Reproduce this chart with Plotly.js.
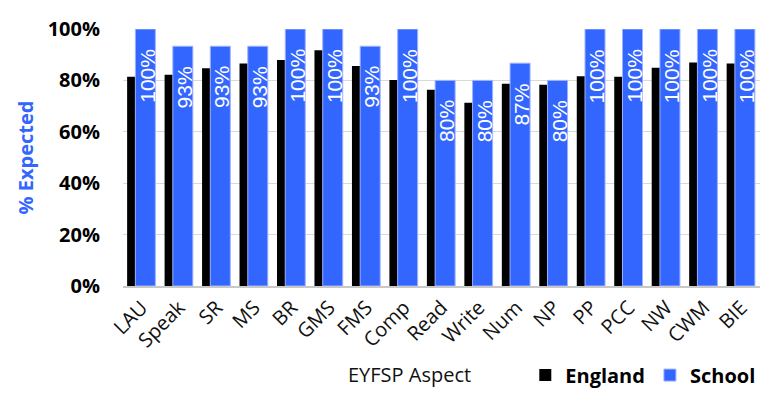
<!DOCTYPE html>
<html>
<head>
<meta charset="utf-8">
<script src="https://cdn.plot.ly/plotly-3.0.1.min.js"></script>
<style>html,body{margin:0;padding:0;background:#fff;}#chart{width:783px;height:394px;}</style>
</head>
<body>
<div id="chart"></div>
<script>
const categories = ["LAU","Speak","SR","MS","BR","GMS","FMS","Comp","Read","Write","Num","NP","PP","PCC","NW","CWM","BIE"];
const englandValues = [0.814,0.822,0.847,0.866,0.879,0.917,0.856,0.802,0.764,0.713,0.787,0.783,0.816,0.814,0.849,0.870,0.866];
const schoolValues = [1.0,0.933,0.933,0.933,1.0,1.0,0.933,1.0,0.80,0.80,0.867,0.80,1.0,1.0,1.0,1.0,1.0];
const yTickValues = [0,0.2,0.4,0.6,0.8,1.0];
const seriesNames = ["England","School"];

const traces = [
  {
    type: 'bar', name: seriesNames[0], x: categories, y: englandValues,
    marker: {color: '#000000'},
    offset: -0.39, width: 0.534,
    hoverinfo: 'skip'
  },
  {
    type: 'bar', name: seriesNames[1], x: categories, y: schoolValues,
    marker: {color: '#3366FF', line: {color: '#9db3ff', width: 1}},
    offset: -0.17, width: 0.534,
    hoverinfo: 'skip'
  }
];

const labelAnnotations = categories.map((c, i) => ({
  x: c, y: schoolValues[i], xref: 'x', yref: 'y',
  text: Math.round(schoolValues[i] * 100) + '%',
  textangle: -90, showarrow: false,
  xanchor: 'center', yanchor: 'top', xshift: 5, yshift: -18,
  font: {family: 'Liberation Sans, Arial, sans-serif', size: 21, color: '#ffffff'}
}));

const layout = {
  width: 783, height: 394,
  margin: {l: 123, r: 23, t: 29, b: 108},
  paper_bgcolor: '#ffffff', plot_bgcolor: '#ffffff',
  barmode: 'overlay',
  showlegend: true,
  legend: {
    orientation: 'h', xref: 'container', yref: 'container',
    x: 0.971, xanchor: 'right', y: 0.048, yanchor: 'middle',
    font: {family: 'Open Sans, sans-serif', size: 20, color: '#000', weight: 'bold'},
    itemwidth: 30, tracegroupgap: 0
  },
  xaxis: {
    type: 'category', tickangle: -45,
    tickfont: {family: 'Open Sans, sans-serif', size: 20, color: '#111'},
    showgrid: false, showline: true, linecolor: '#c8c8c8', linewidth: 2,
    ticks: '', zeroline: false
  },
  yaxis: {
    range: [0, 1], tickvals: yTickValues, tickformat: '.0%',
    tickfont: {family: 'Open Sans, sans-serif', size: 20, color: '#000', weight: 'bold'},
    showgrid: true, gridcolor: '#d9d9d9', gridwidth: 1,
    zeroline: false, ticks: '', ticklabelstandoff: 22,
    title: {text: '% Expected', font: {family: 'Open Sans, sans-serif', size: 20, color: '#3366FF', weight: 'bold'}, standoff: 8}
  },
  annotations: labelAnnotations.concat([
    {text: 'EYFSP Aspect', xref: 'paper', yref: 'paper', x: 0.449, y: -0.346,
     xanchor: 'center', yanchor: 'middle', showarrow: false,
     font: {family: 'Open Sans, sans-serif', size: 20, color: '#111'}}
  ])
};

Plotly.newPlot('chart', traces, layout, {displayModeBar: false, staticPlot: true});
</script>
</body>
</html>
